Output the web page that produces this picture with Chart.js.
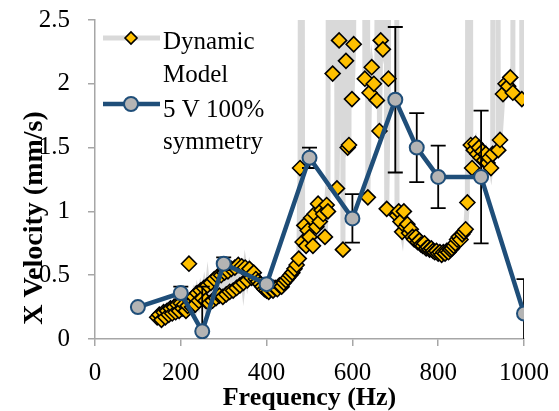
<!DOCTYPE html>
<html><head><meta charset="utf-8">
<script src="https://cdn.jsdelivr.net/npm/chart.js@4/dist/chart.umd.min.js"></script>
<style>html,body{margin:0;padding:0;background:#fff}</style>
</head><body>
<canvas id="c" width="559" height="411"></canvas>
<script>
// ---- data ----
const dynFreq = [145,150,155,160,164,168,172,176,180,184,188,192,196,200,204,208,212,216,218,219,220,
222,226,230,234,238,242,246,250,254,258,262,266,270,274,278,282,286,290,294,298,302,306,310,314,318,322,326,330,334,338,342,346,350,355,360,365,370,375,380,385,390,395,400,405,410,415,420,425,430,435,440,445,450,455,460,465,470,475,478,481,484,488,492,496,500,504,508,512,516,520,524,528,532,536,540,
543,547,554,558,564,569,573,578,582,585,589,592,596,599,603,607,614,624,629,633,636,640,645,650,657,660,663,666,671,675,680,684,688,694,700,704,
708,712,716,720,724,728,732,736,740,744,748,752,756,760,764,768,772,776,780,784,788,792,796,800,804,808,812,816,820,824,828,832,836,840,844,848,852,856,860,864,868,872,
876,879,883,887,891,895,899,903,907,911,915,919,923,927,931,936,940,944,951,957,963,968,974,978,984,990,995];
const dynVel = [0.17,0.19,0.15,0.21,0.17,0.22,0.19,0.24,0.2,0.25,0.21,0.27,0.22,0.28,0.24,0.27,0.22,0.26,null,0.59,null,
0.30,0.25,0.33,0.27,0.36,0.3,0.38,0.32,0.4,0.3,0.42,0.28,0.44,0.3,0.47,0.32,0.49,0.34,0.5,0.33,0.52,0.35,0.53,0.37,0.55,0.38,0.56,0.4,0.58,0.42,0.57,0.44,0.56,0.46,0.55,0.48,0.52,0.47,0.45,0.43,0.41,0.39,0.38,0.37,0.39,0.38,0.4,0.39,0.42,0.41,0.44,0.46,0.48,0.5,0.52,0.55,0.58,0.63,1.34,9,0.76,0.89,0.73,0.85,0.8,0.95,0.73,0.98,0.88,1.06,0.92,1.01,0.98,0.8,1.05,
1.0,12,2.08,14,1.18,2.34,15,0.70,16,2.18,1.50,1.52,10,1.88,2.31,18,6,20,2.04,11,1.11,1.93,2.13,2.0,1.87,14,1.63,2.34,2.27,12,1.02,2.04,16,5,14,0.97,
1.0,0.92,0.84,1.0,0.88,0.9,0.83,0.86,0.8,0.78,0.8,0.76,0.77,0.74,0.73,0.75,0.71,0.72,0.7,0.71,0.69,0.68,0.69,0.67,0.68,0.66,0.68,0.67,0.69,0.68,0.7,0.71,0.73,0.75,0.78,0.8,0.78,0.82,0.84,0.86,1.07,11,
1.52,1.34,1.48,1.53,1.45,1.5,1.42,1.47,1.4,1.45,1.38,1.42,1.34,1.45,13,16,1.48,1.56,1.92,2.0,1.98,2.05,1.93,15,6,17,1.88];

const expFreq = [100,200,250,300,400,500,600,700,750,800,900,1000];
const expVel  = [0.25,0.36,0.06,0.59,0.43,1.42,0.945,1.875,1.50,1.27,1.27,0.20];
const expErr  = [0.0,0.05,0.35,0.05,0.03,0.08,0.19,0.57,0.27,0.245,0.52,0.27];

const xTicks = [0,200,400,600,800,1000];
const yTicks = [0,0.5,1,1.5,2,2.5];
const seriesNames = [['Dynamic','Model'],['5 V 100%','symmetry']];
const xTitle = 'Frequency (Hz)';
const yTitle = 'X Velocity (mm/s)';

const SERIF = "'Liberation Serif','Times New Roman',serif";

const errorBars = {
  id:'errorBars',
  afterDatasetDraw(chart, args){
    if (args.index !== 0) return;
    const ctx = chart.ctx, xs = chart.scales.x, ys = chart.scales.y, a = chart.chartArea;
    ctx.save();
    ctx.beginPath(); ctx.rect(a.left, a.top, a.right-a.left, a.bottom-a.top); ctx.clip();
    ctx.strokeStyle = '#000'; ctx.lineWidth = 1.8;
    expFreq.forEach((f,i)=>{
      const e = expErr[i]; if (!e) return;
      const x = xs.getPixelForValue(f);
      const yt = ys.getPixelForValue(expVel[i]+e), yb = ys.getPixelForValue(expVel[i]-e);
      ctx.beginPath();
      ctx.moveTo(x,yt); ctx.lineTo(x,yb);
      ctx.moveTo(x-7.5,yt); ctx.lineTo(x+7.5,yt);
      ctx.moveTo(x-7.5,yb); ctx.lineTo(x+7.5,yb);
      ctx.stroke();
    });
    ctx.restore();
  }
};

const decor = {
  id:'decor',
  afterDraw(chart){
    const ctx = chart.ctx, a = chart.chartArea;
    ctx.save();
    ctx.fillStyle = '#000';
    ctx.font = "bold 26px " + SERIF;
    ctx.textAlign = 'center'; ctx.textBaseline = 'alphabetic';
    ctx.fillText(xTitle, (a.left+a.right)/2, 405);
    ctx.save();
    ctx.translate(42, 218); ctx.rotate(-Math.PI/2);
    ctx.font = "bold 28px " + SERIF;
    ctx.fillText(yTitle, 0, 0);
    ctx.restore();
    const ds = chart.data.datasets;
    const rows = [{y:38, d:ds[0], base:[49,82]}, {y:104, d:ds[1], base:[117,149]}];
    rows.forEach((r,i)=>{
      ctx.beginPath();
      ctx.strokeStyle = r.d.borderColor; ctx.lineWidth = r.d.borderWidth; ctx.lineCap='butt';
      ctx.moveTo(103, r.y); ctx.lineTo(160, r.y); ctx.stroke();
      ctx.fillStyle = r.d.pointBackgroundColor; ctx.strokeStyle = r.d.pointBorderColor;
      ctx.lineWidth = r.d.pointBorderWidth;
      Chart.helpers.drawPoint(ctx, {pointStyle:r.d.pointStyle, radius: i===0?6:r.d.pointRadius, borderWidth:r.d.pointBorderWidth, rotation:0}, 131, r.y);
      ctx.fillStyle = '#000'; ctx.font = "25px " + SERIF; ctx.textAlign='left';
      seriesNames[i].forEach((t,k)=>ctx.fillText(t, 163, r.base[k]));
    });
    ctx.restore();
  }
};

new Chart(document.getElementById('c'), {
  type:'scatter',
  data:{ datasets:[
    { label: seriesNames[0].join(' '),
      data: dynFreq.map((f,i)=>({x:f, y:dynVel[i]})),
      showLine:true, spanGaps:false, borderColor:'#d9d9d9', borderWidth:5,
      pointStyle:'rectRot', pointRadius:7.5, pointBackgroundColor:'#ffc000', pointBorderColor:'#000', pointBorderWidth:1.6,
      order:1 },
    { label: seriesNames[1].join(' '),
      data: expFreq.map((f,i)=>({x:f, y:expVel[i]})),
      showLine:true, borderColor:'#1f4e79', borderWidth:4.5,
      pointStyle:'circle', pointRadius:7, pointBackgroundColor:'#b4b4b4', pointBorderColor:'#1f4e79', pointBorderWidth:2,
      order:0 }
  ]},
  options:{
    responsive:false, animation:false, devicePixelRatio:1,
    layout:{padding:{top:20,right:35,left:0,bottom:0}},
    plugins:{legend:{display:false}, tooltip:{enabled:false}},
    scales:{
      x:{ type:'linear', min:0, max:1000,
        afterBuildTicks: s => { s.ticks = xTicks.map(v=>({value:v})); },
        afterFit: s => { s.height = 72; s.paddingLeft = 0; s.paddingRight = 0; },
        ticks:{ font:{family:SERIF, size:25}, color:'#000', padding:12, maxRotation:0, callback: v => String(v) },
        grid:{ drawOnChartArea:false, drawTicks:true, tickLength:7, color:'#a6a6a6', lineWidth:1.5 },
        border:{ color:'#a6a6a6', width:1.5 } },
      y:{ min:0, max:2.5,
        afterBuildTicks: s => { s.ticks = yTicks.map(v=>({value:v})); },
        afterFit: s => { s.width = 95; s.paddingTop = 0; s.paddingBottom = 0; },
        ticks:{ font:{family:SERIF, size:25}, color:'#000', padding:18, callback: v => String(v) },
        grid:{ drawOnChartArea:false, drawTicks:true, tickLength:7, color:'#a6a6a6', lineWidth:1.5 },
        border:{ color:'#a6a6a6', width:1.5 } }
    }
  },
  plugins:[errorBars, decor]
});
</script>
</body></html>
